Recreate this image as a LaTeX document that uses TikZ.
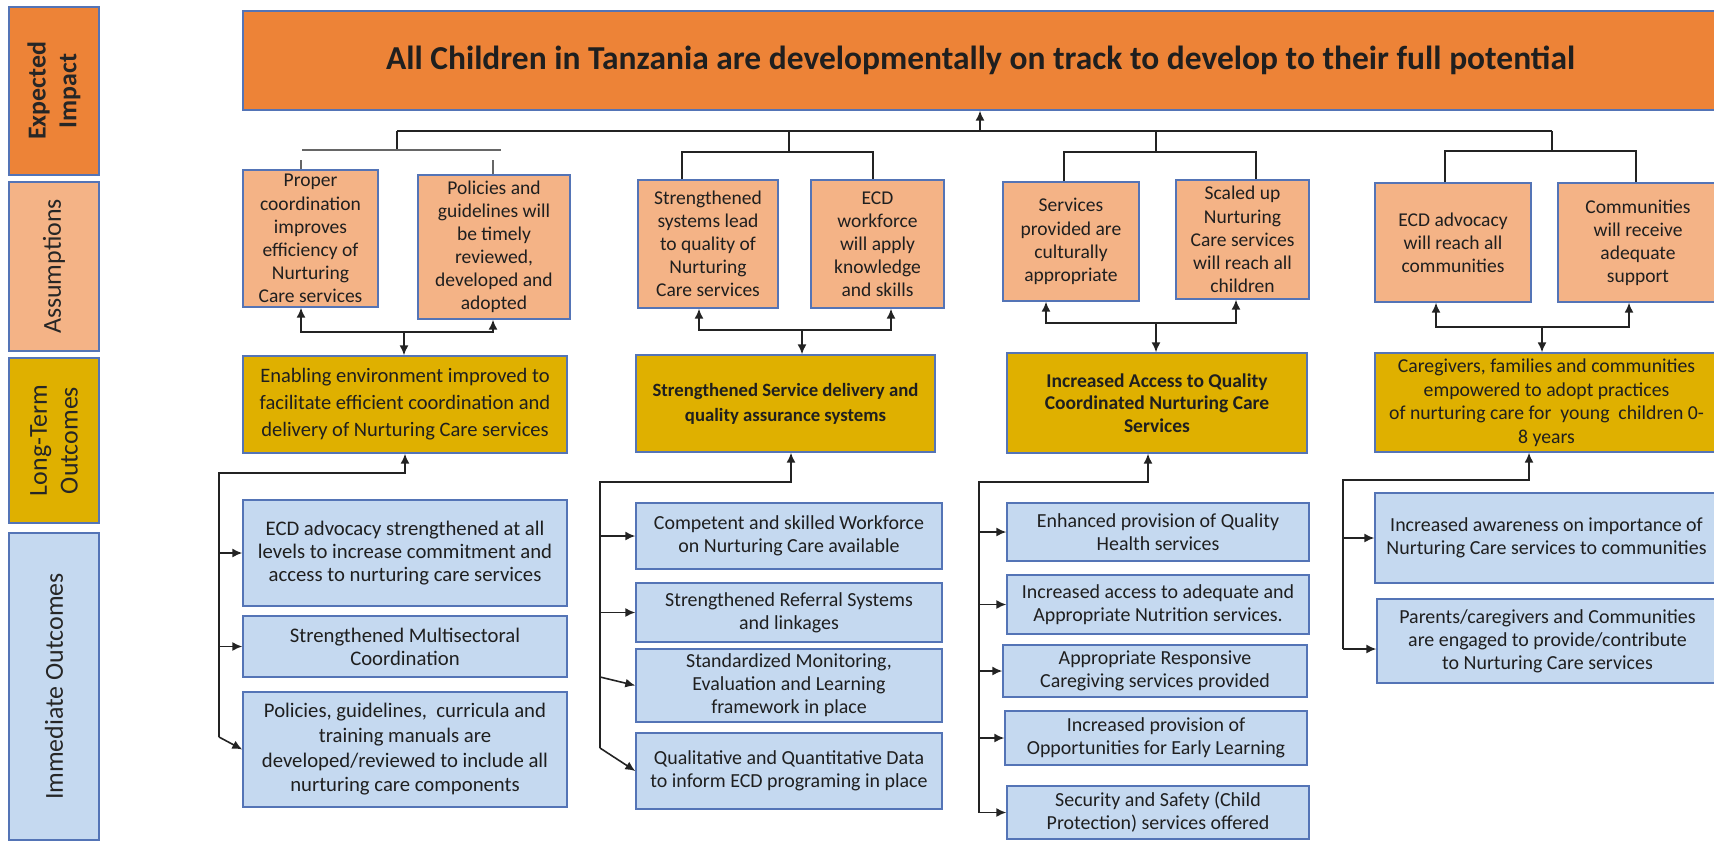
\documentclass[tikz,border=0pt]{standalone}
\usepackage{fontspec}
\setmainfont{Carlito}
\usetikzlibrary{arrows.meta}

\definecolor{impact}{RGB}{237,131,55}
\definecolor{assume}{RGB}{244,179,134}
\definecolor{longterm}{RGB}{223,176,0}
\definecolor{immediate}{RGB}{197,217,240}
\definecolor{edge}{RGB}{84,116,182}
\definecolor{wirec}{RGB}{35,35,35}

\tikzset{
  box/.style={draw=edge, line width=0.7pt, inner sep=0pt, align=center, text=black!88},
  dims/.style 2 args={minimum width=#1bp, minimum height=#2bp},
  sidebox/.style={box, line width=1pt},
  impactbox/.style={box, fill=impact, font=\fontsize{16.8}{19}\selectfont\bfseries},
  assumebox/.style={box, fill=assume, font=\fontsize{9.8}{11.6}\selectfont},
  ltbox/.style={box, fill=longterm, font=\fontsize{9.8}{11.6}\selectfont},
  iobox/.style={box, fill=immediate, font=\fontsize{10}{11.6}\selectfont},
  sidetext/.style={rotate=90, align=center, font=\fontsize{13}{15.5}\selectfont, text=black!85},
  wire/.style={draw=wirec, line width=0.8pt},
  arr/.style={wire, -{Latex[length=5pt,width=4.5pt]}},
  twoarr/.style={wire, {Latex[length=5pt,width=4.5pt]}-{Latex[length=5pt,width=4.5pt]}}
}

\begin{document}
\begin{tikzpicture}[x=0.5bp, y=-0.5bp]
\useasboundingbox (0,0) rectangle (1714,841);

% Side bars
\node[sidebox, fill=impact, dims={45}{84}] (sEI) at (54,91) {};
\node[sidetext, font=\fontsize{13}{15.5}\selectfont\bfseries] (sEIt) at (sEI) {Expected\\Impact};
\node[sidebox, fill=assume, dims={45}{84.5}] (sAs) at (54,266.5) {};
\node[sidetext] (sAst) at (sAs) {Assumptions};
\node[sidebox, fill=longterm, dims={45}{82.5}] (sLT) at (54,440.5) {};
\node[sidetext] (sLTt) at (sLT) {Long-Term\\Outcomes};
\node[sidebox, fill=immediate, dims={45}{153.5}] (sIO) at (54,686.5) {};
\node[sidetext] (sIOt) at (sIO) {Immediate Outcomes};

% Expected impact
\node[impactbox, dims={737.5}{49.5}] (top) at (980.5,60.5) {All Children in Tanzania are developmentally on track to develop to their full potential};

% Assumptions
\node[assumebox, dims={67.5}{68.5}] (a11) at (310.5,238.5) {Proper\\coordination\\improves\\efficiency of\\Nurturing\\Care services};
\node[assumebox, dims={76}{72}] (a12) at (494,247) {Policies and\\guidelines will\\be timely\\reviewed,\\developed and\\adopted};
\node[assumebox, dims={70}{64}] (a21) at (708,244) {Strengthened\\systems lead\\to quality of\\Nurturing\\Care services};
\node[assumebox, dims={66.5}{64}] (a22) at (877.5,244) {ECD\\workforce\\will apply\\knowledge\\and skills};
\node[assumebox, dims={68}{59.5}] (a31) at (1071,241.5) {Services\\provided are\\culturally\\appropriate};
\node[assumebox, dims={66.5}{59.5}] (a32) at (1242.5,239.5) {Scaled up\\Nurturing\\Care services\\will reach all\\children};
\node[assumebox, dims={78}{59.5}] (a41) at (1453,242.5) {ECD advocacy\\will reach all\\communities};
\node[assumebox, dims={80}{59.5}] (a42) at (1638,242.5) {Communities\\will receive\\adequate\\support};

% Long-term outcomes
\node[ltbox, font=\fontsize{10.3}{13.5}\selectfont, dims={162}{48.5}] (lt1) at (405,404.5) {Enabling environment improved to\\facilitate efficient coordination and\\delivery of Nurturing Care services};
\node[ltbox, font=\fontsize{9.4}{12.5}\selectfont\bfseries, dims={149.5}{48.5}] (lt2) at (785.5,403.5) {Strengthened Service delivery and\\quality assurance systems};
\node[ltbox, font=\fontsize{9.8}{11.4}\selectfont\bfseries, dims={150}{50}] (lt3) at (1157,403) {Increased Access to Quality\\Coordinated Nurturing Care\\Services};
\node[ltbox, font=\fontsize{9.9}{11.8}\selectfont, dims={171.5}{49.5}] (lt4) at (1546.5,402.5) {Caregivers, families and communities\\empowered to adopt practices\\of nurturing care for\ \ young\ \ children 0-\\8 years};

% Immediate outcomes
\node[iobox, font=\fontsize{10.4}{11.6}\selectfont, dims={162}{53}] (io11) at (405,553) {ECD advocacy strengthened at all\\levels to increase commitment and\\access to nurturing care services};
\node[iobox, font=\fontsize{10.4}{11.6}\selectfont, dims={162}{30.5}] (io12) at (405,646.5) {Strengthened Multisectoral\\Coordination};
\node[iobox, font=\fontsize{10.4}{12.4}\selectfont, dims={162}{57.5}] (io13) at (405,749.5) {Policies, guidelines,\ \ curricula and\\training manuals are\\developed/reviewed to include all\\nurturing care components};
\node[iobox, dims={153}{33}] (io21) at (789,536) {Competent and skilled Workforce\\on Nurturing Care available};
\node[iobox, dims={153}{29.5}] (io22) at (789,612.5) {Strengthened Referral Systems\\and linkages};
\node[iobox, dims={153}{36.5}] (io23) at (789,685.5) {Standardized Monitoring,\\Evaluation and Learning\\framework in place};
\node[iobox, dims={153}{38}] (io24) at (789,771) {Qualitative and Quantitative Data\\to inform ECD programing in place};
\node[iobox, dims={151}{29}] (io31) at (1158,532) {Enhanced provision of Quality\\Health services};
\node[iobox, dims={151}{29.5}] (io32) at (1158,604.5) {Increased access to adequate and\\Appropriate Nutrition services.};
\node[iobox, dims={152}{26}] (io33) at (1155,671) {Appropriate Responsive\\Caregiving services provided};
\node[iobox, dims={151}{27}] (io34) at (1156,738) {Increased provision of\\Opportunities for Early Learning};
\node[iobox, dims={151}{26.5}] (io35) at (1158,812.5) {Security and Safety (Child\\Protection) services offered};
\node[iobox, dims={171.5}{45}] (io41) at (1546.5,538) {Increased awareness on importance of\\Nurturing Care services to communities};
\node[iobox, dims={170.5}{42}] (io42) at (1547.5,641) {Parents/caregivers and Communities\\are engaged to provide/contribute\\to Nurturing Care services};

% Tree under the impact box
\coordinate (mL) at (397,131);
\coordinate (mR) at (1552,131);
\coordinate (mC) at (980,131);
\draw[wire] (mL) -- (mR);
\draw[arr] (mC) -- (mC |- top.south);

% Column 1 (bar with loose ticks)
\coordinate (t1) at (397,150);
\coordinate (t1l) at (302,150);
\coordinate (t1r) at (501,150);
\coordinate (k11) at (301,160);
\coordinate (k12) at (493,160);
\draw[wire] (mL) -- (t1);
\draw[wire, draw=black!60, line width=1.1pt] (t1l) -- (t1r);
\draw[wire, draw=black!60] (k11) -- (k11 |- a11.north);
\draw[wire, draw=black!60] (k12) -- (k12 |- a12.north);

% Column 2
\coordinate (t2) at (789,152);
\coordinate (t2l) at (682,152);
\coordinate (t2r) at (873,152);
\draw[wire] (t2 |- mL) -- (t2);
\draw[wire] (a21.north -| t2l) -- (t2l) -- (t2r) -- (a22.north -| t2r);

% Column 3
\coordinate (t3) at (1156,152);
\coordinate (t3l) at (1064,152);
\coordinate (t3r) at (1256,152);
\draw[wire] (t3 |- mL) -- (t3);
\draw[wire] (a31.north -| t3l) -- (t3l) -- (t3r) -- (a32.north -| t3r);

% Column 4
\coordinate (t4) at (1552,151);
\coordinate (t4l) at (1445,151);
\coordinate (t4r) at (1636,151);
\draw[wire] (mR) -- (t4);
\draw[wire] (a41.north -| t4l) -- (t4l) -- (t4r) -- (a42.north -| t4r);

% Assumptions to long-term outcomes
\coordinate (u1l) at (301,332);
\coordinate (u1r) at (493,332);
\coordinate (u1) at (404,332);
\draw[twoarr] (a11.south -| u1l) -- (u1l) -- (u1r) -- (a12.south -| u1r);
\draw[arr] (u1) -- (u1 |- lt1.north);

\coordinate (u2l) at (699,330);
\coordinate (u2r) at (891,330);
\coordinate (u2) at (802,330);
\draw[twoarr] (a21.south -| u2l) -- (u2l) -- (u2r) -- (a22.south -| u2r);
\draw[arr] (u2) -- (u2 |- lt2.north);

\coordinate (u3l) at (1046,323);
\coordinate (u3r) at (1236,323);
\coordinate (u3) at (1156,323);
\draw[twoarr] (a31.south -| u3l) -- (u3l) -- (u3r) -- (a32.south -| u3r);
\draw[arr] (u3) -- (u3 |- lt3.north);

\coordinate (u4l) at (1436,327);
\coordinate (u4r) at (1629,327);
\coordinate (u4) at (1542,327);
\draw[twoarr] (a41.south -| u4l) -- (u4l) -- (u4r) -- (a42.south -| u4r);
\draw[arr] (u4) -- (u4 |- lt4.north);

% Immediate outcomes feeding up
\coordinate (v1) at (405,473);
\coordinate (v1t) at (219,473);
\coordinate (v1b) at (219,737);
\draw[arr] (v1b) -- (v1t) -- (v1) -- (v1 |- lt1.south);
\draw[arr] (io11.west -| v1t) -- (io11.west);
\draw[arr] (io12.west -| v1t) -- (io12.west);
\draw[arr] (v1b) -- (io13.west);

\coordinate (v2) at (791,482);
\coordinate (v2t) at (600,482);
\coordinate (v2m) at (600,677);
\coordinate (v2b) at (600,748);
\draw[arr] (v2b) -- (v2t) -- (v2) -- (v2 |- lt2.south);
\draw[arr] (io21.west -| v2t) -- (io21.west);
\draw[arr] (io22.west -| v2t) -- (io22.west);
\draw[arr] (v2m) -- (io23.west);
\draw[arr] (v2b) -- (io24.west);

\coordinate (v3) at (1148,482);
\coordinate (v3t) at (979,482);
\draw[arr] (io35.west -| v3t) -- (v3t) -- (v3) -- (v3 |- lt3.south);
\draw[arr] (io31.west -| v3t) -- (io31.west);
\draw[arr] (io32.west -| v3t) -- (io32.west);
\draw[arr] (io33.west -| v3t) -- (io33.west);
\draw[arr] (io34.west -| v3t) -- (io34.west);
\draw[arr] (io35.west -| v3t) -- (io35.west);

\coordinate (v4) at (1529,480);
\coordinate (v4t) at (1343,480);
\coordinate (v4b) at (1343,649);
\draw[arr] (v4b) -- (v4t) -- (v4) -- (v4 |- lt4.south);
\draw[arr] (io41.west -| v4t) -- (io41.west);
\draw[arr] (v4b) -- (io42.west |- v4b);

\end{tikzpicture}
\end{document}
